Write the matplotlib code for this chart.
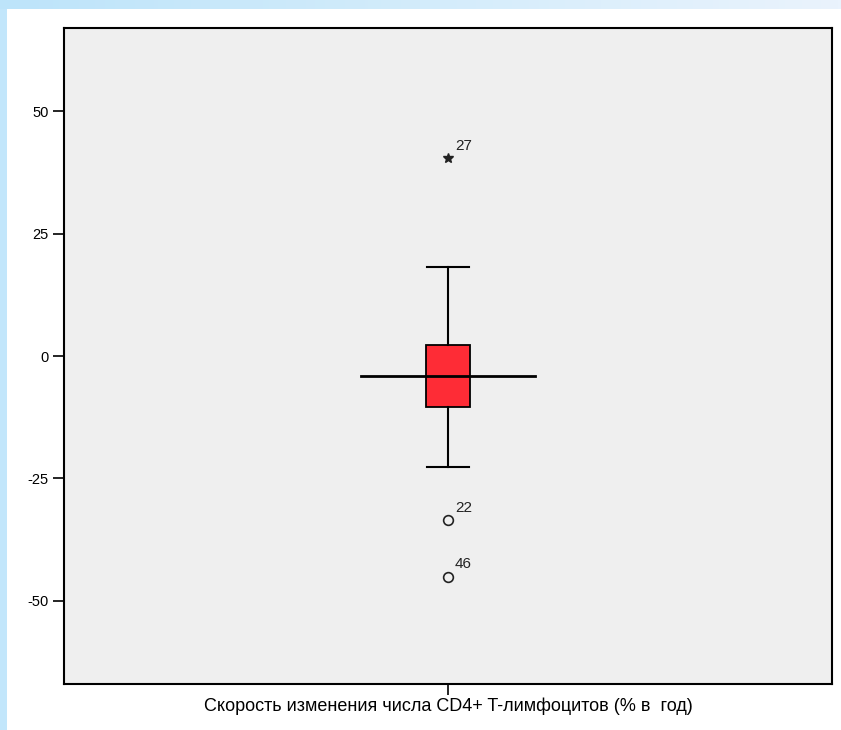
import numpy as np
import matplotlib
matplotlib.use("Agg")
import matplotlib.pyplot as plt
from matplotlib.patches import Rectangle
from matplotlib.colors import LinearSegmentedColormap

plt.rcParams["font.family"] = ["Liberation Sans", "DejaVu Sans"]
plt.rcParams["axes.unicode_minus"] = False

# box statistics (% per year)
label = "Скорость изменения числа CD4+ T-лимфоцитов (% в  год)"
q1, median, q3 = -10.4, -4.1, 2.2
whislo, whishi = -22.6, 18.1
outlier_vals = [-33.5, -45.1]
outlier_ids = ["22", "46"]
extreme_vals = [40.4]
extreme_ids = ["27"]
yticks = [-50, -25, 0, 25, 50]

fig = plt.figure(figsize=(8.41, 7.30), dpi=100)
fig.patch.set_facecolor("#c2e6fb")

# slide-like frame: white panel with blue gradient strip on top
fig.patches.append(Rectangle((7 / 841, 0), 1, 1 - 9 / 730, transform=fig.transFigure,
                             facecolor="white", edgecolor="none", zorder=-10))
bg = fig.add_axes([0, 1 - 9 / 730, 1, 9 / 730], zorder=-5)
grad = np.linspace(0, 1, 256)[None, :]
cmap = LinearSegmentedColormap.from_list("top", ["#bde4fa", "#d3ecfb", "#eaf3fd"])
bg.imshow(grad, aspect="auto", cmap=cmap, extent=[0, 1, 0, 1])
bg.axis("off")

ax = fig.add_axes([64 / 841, 1 - 684 / 730, 768 / 841, 656 / 730], zorder=1)
ax.set_facecolor("#efefef")

stats = [dict(med=median, q1=q1, q3=q3, whislo=whislo, whishi=whishi, fliers=[])]
ax.bxp(stats, positions=[1], widths=0.056, patch_artist=True, showfliers=False,
       boxprops=dict(facecolor="#fe2c36", edgecolor="black", linewidth=1.3),
       whiskerprops=dict(color="black", linewidth=1.5),
       capprops=dict(color="black", linewidth=1.5),
       capwidths=0.055,
       medianprops=dict(color="none"))
# long median line as drawn in the original
ax.plot([1 - 0.113, 1 + 0.113], [median, median], color="black", lw=2, zorder=5)

ax.plot([1] * len(outlier_vals), outlier_vals, "o", mfc="none", mec="#222222",
        ms=7, mew=1.2)
ax.plot([1] * len(extreme_vals), extreme_vals, "*", color="#222222", ms=7)
for v, t in zip(outlier_vals + extreme_vals, outlier_ids + extreme_ids):
    ax.annotate(t, (1, v), xytext=(5, 6), textcoords="offset points",
                fontsize=11, color="#222222")

ax.set_xlim(0.5, 1.5)
ax.set_ylim(-67, 67)
ax.set_yticks(yticks)
ax.set_yticklabels([str(t) for t in yticks], fontsize=10.5, color="#222222")
ax.set_xticks([1])
ax.set_xticklabels([label], fontsize=13, color="#222222")
ax.tick_params(axis="both", direction="out", length=8, width=1.2, pad=3,
               colors="black")
ax.tick_params(axis="x", pad=2)
for s in ax.spines.values():
    s.set_linewidth(1.5)

fig.savefig("out.png", dpi=100)
